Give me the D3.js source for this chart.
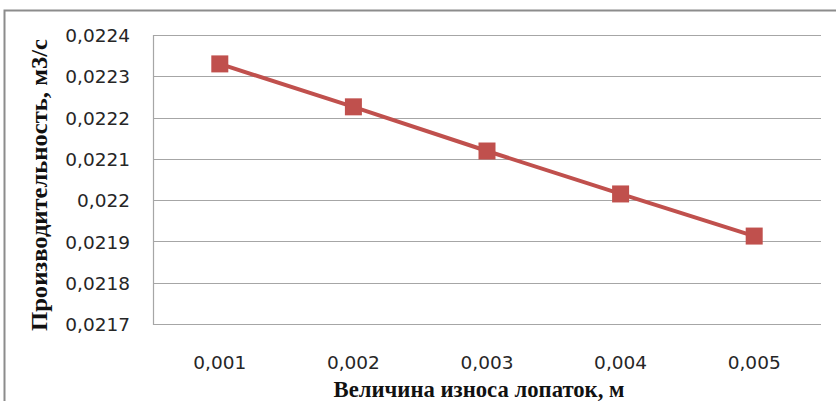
<!DOCTYPE html>
<html><head><meta charset="utf-8">
<script src="https://cdn.jsdelivr.net/npm/d3@7/dist/d3.min.js"></script>
<style>body{margin:0;background:#fff}svg{display:block}</style>
</head><body>
<script>
const categories = ["0,001","0,002","0,003","0,004","0,005"];
const values = [0.02233, 0.022226, 0.022119, 0.022015, 0.021913];
const yTicks = [0.0217,0.0218,0.0219,0.022,0.0221,0.0222,0.0223,0.0224];
const yTitle = "Производительность, м3/с";
const xTitle = "Величина износа лопаток, м";

const W=836,H=401;
const svg=d3.select("body").append("svg").attr("width",W).attr("height",H);
// outer frame
svg.append("path").attr("d",`M4.5,${H+2} V10.5 H${W+2}`).attr("fill","none").attr("stroke","#8c8c8c").attr("stroke-width",2);

const L=153,R=821,T=35,B=324;
const x=d3.scaleBand().domain(categories).range([L,R]);
const y=d3.scaleLinear().domain([0.0217,0.0224]).range([B,T]);

// gridlines
svg.append("g").selectAll("line").data(yTicks.slice(1)).join("line")
 .attr("x1",L).attr("x2",R).attr("y1",d=>Math.round(y(d))+0.5).attr("y2",d=>Math.round(y(d))+0.5)
 .attr("stroke","#a6a6a6").attr("stroke-width",1.2);
// axis lines
svg.append("path").attr("d",`M${L+0.5},${T} V${B+0.5} H${R}`).attr("fill","none").attr("stroke","#a6a6a6").attr("stroke-width",1.2);

const fmt=d=>d3.format(".4~f")(d).replace(".",",");
const tf="DejaVu Sans", ts=18.5;
const yAxis=d3.axisLeft(y).tickValues(yTicks).tickFormat(fmt).tickSize(0).tickPadding(23);
const gy=svg.append("g").attr("transform",`translate(${L},0)`).call(yAxis);
gy.select(".domain").remove();
gy.selectAll("text").attr("font-family",tf).attr("font-size",ts).attr("fill","#262626").attr("dy","0.36em");

const xAxis=d3.axisBottom(x).tickSize(0).tickPadding(32);
const gx=svg.append("g").attr("transform",`translate(0,${B})`).call(xAxis);
gx.select(".domain").remove();
gx.selectAll("text").attr("font-family",tf).attr("font-size",ts).attr("fill","#262626").attr("dy","0.71em");

const line=d3.line().x((d,i)=>x(categories[i])+x.bandwidth()/2).y(d=>y(d));
svg.append("path").datum(values).attr("d",line).attr("fill","none").attr("stroke","#c0504d").attr("stroke-width",4);
const s=17;
svg.append("g").selectAll("rect").data(values).join("rect")
 .attr("x",(d,i)=>x(categories[i])+x.bandwidth()/2-s/2).attr("y",d=>y(d)-s/2)
 .attr("width",s).attr("height",s).attr("fill","#c0504d");

svg.append("text").attr("transform",`translate(47,185) rotate(-90)`)
 .attr("text-anchor","middle").attr("font-family","Liberation Serif").attr("font-weight","bold")
 .attr("font-size",23).attr("fill","#111").attr("textLength",292).attr("lengthAdjust","spacingAndGlyphs").text(yTitle);
svg.append("text").attr("x",479).attr("y",397).attr("text-anchor","middle")
 .attr("font-family","Liberation Serif").attr("font-weight","bold")
 .attr("font-size",23).attr("fill","#111").attr("textLength",291).attr("lengthAdjust","spacingAndGlyphs").text(xTitle);
</script>
</body></html>
